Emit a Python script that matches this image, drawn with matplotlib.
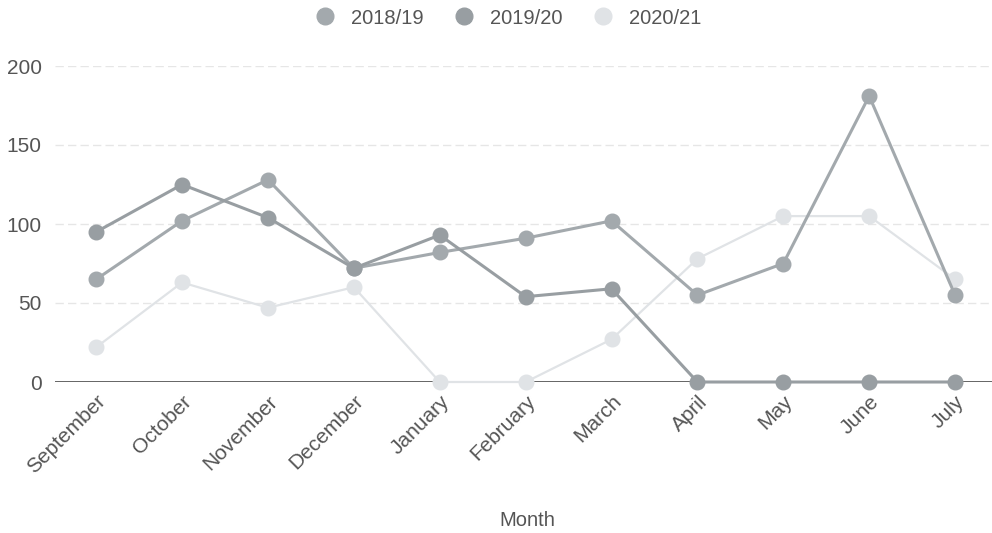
import matplotlib
matplotlib.use("Agg")
import matplotlib.pyplot as plt
from matplotlib.lines import Line2D

months = ["September", "October", "November", "December", "January", "February",
          "March", "April", "May", "June", "July"]
s1819 = [65, 102, 128, 72, 82, 91, 102, 55, 75, 181, 55]
s1920 = [95, 125, 104, 72, 93, 54, 59, 0, 0, 0, 0]
s2021 = [22, 63, 47, 60, 0, 0, 27, 78, 105, 105, 65]
series_names = ["2018/19", "2019/20", "2020/21"]
yticks = [0, 50, 100, 150, 200]

plt.rcParams['font.family'] = ['Liberation Sans', 'DejaVu Sans']

fig = plt.figure(figsize=(9.92, 5.33), dpi=100)
ax = fig.add_axes([55/992, 1 - 382/533, (992-55)/992, (382-66)/533])

colors = ["#a3a9ad", "#989ea2", "#e0e3e6"]
x = list(range(len(months)))
for vals, c, lw, z in zip([s1819, s1920, s2021], colors, [2.2, 2.2, 1.6], [3, 4, 2]):
    ax.plot(x, vals, color=c, lw=lw, marker='o', markersize=10.5,
            markerfacecolor=c, markeredgecolor=c, zorder=z, clip_on=False)

ax.set_ylim(0, 200)
ax.set_xlim(-0.48, 10.43)
ax.set_yticks(yticks)
ax.set_yticklabels([str(v) for v in yticks])
ax.set_xticks(x)
ax.set_xticklabels(months, rotation=45, ha='right', rotation_mode='anchor')
ax.tick_params(axis='both', length=0, labelsize=15, labelcolor='#555555')
ax.tick_params(axis='y', pad=9.5)
ax.tick_params(axis='x', pad=7)
for v in yticks[1:]:
    ax.axhline(v, color='#e6e6e6', lw=1, ls=(0, (6, 3)), zorder=1)
ax.axhline(0, color='#4a4a4a', lw=1.2, zorder=1)
for sp in ax.spines.values():
    sp.set_visible(False)

fig.text(527/992, 1 - 520/533, "Month", fontsize=14.5, color='#555555',
         ha='center', va='center')

handles = [Line2D([], [], color=c, marker='o', ls='none', markersize=12) for c in colors]
fig.legend(handles, series_names, loc='center', bbox_to_anchor=(503/992, 1 - 18/533),
           ncol=3, frameon=False, fontsize=14.5, handletextpad=0.3, columnspacing=1.0,
           labelcolor='#555555')

fig.savefig("out.png", dpi=100)
